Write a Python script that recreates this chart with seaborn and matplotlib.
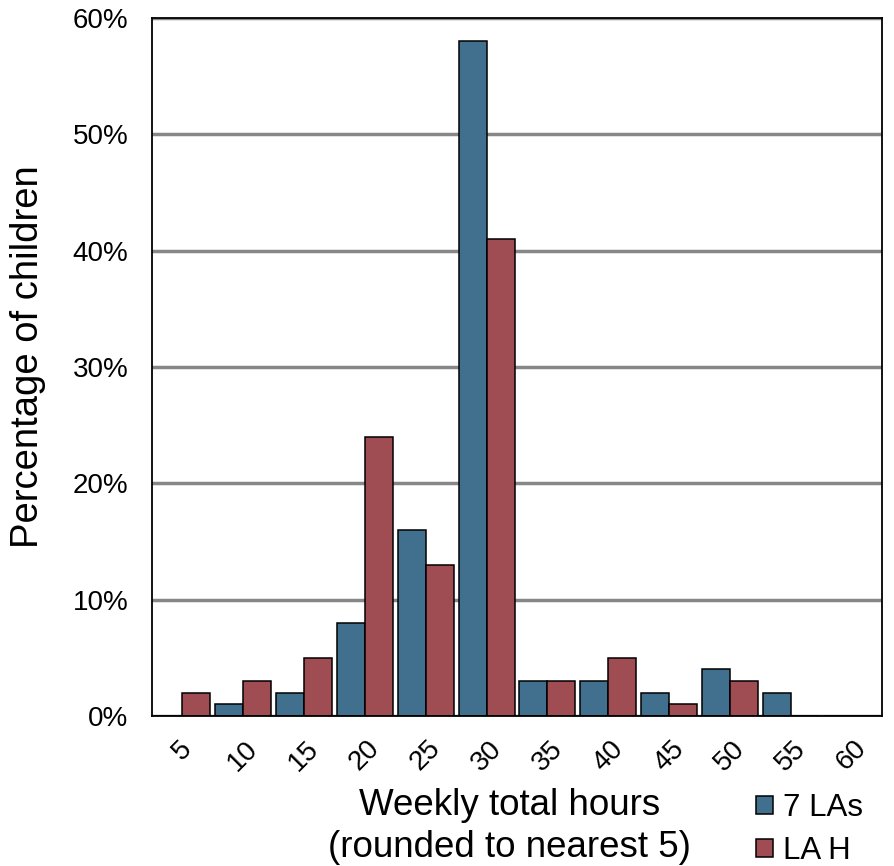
import numpy as np
import pandas as pd
import matplotlib
matplotlib.use("Agg")
import matplotlib.pyplot as plt
import seaborn as sns
from matplotlib.ticker import FuncFormatter, FixedLocator

# Data (percentage of children per rounded weekly hours)
hours = ["5", "10", "15", "20", "25", "30", "35", "40", "45", "50", "55", "60"]
las7 = [0, 1, 2, 8, 16, 58, 3, 3, 2, 4, 2, 0]
la_h = [2, 3, 5, 24, 13, 41, 3, 5, 1, 3, 0, 0]
series_names = ["7 LAs", "LA H"]
colors = {"7 LAs": "#41708F", "LA H": "#A04C53"}

sns.set_style("white")
plt.rcParams['font.family'] = ['Liberation Sans', 'DejaVu Sans']
plt.rcParams.update({"text.color": "black", "axes.labelcolor": "black",
                     "xtick.color": "black", "ytick.color": "black"})

df = pd.DataFrame({
    "hours": hours * 2,
    "pct": las7 + la_h,
    "series": [series_names[0]] * len(hours) + [series_names[1]] * len(hours),
})

fig = plt.figure(figsize=(8.95, 8.66), dpi=100)
ax = fig.add_axes([152 / 895, 1 - 716 / 866, 730 / 895, 698 / 866])

sns.barplot(data=df, x="hours", y="pct", hue="series", order=hours,
            hue_order=series_names, palette=colors, width=0.92, gap=0,
            edgecolor="black", linewidth=1.1, saturation=1, ax=ax, zorder=3)

ax.set_ylim(0, 60)
ax.set_xlim(-0.5, len(hours) - 0.5)
ax.set_yticks(range(0, 61, 10))
ax.yaxis.set_major_formatter(FuncFormatter(lambda v, p: f"{int(v)}%"))
ax.grid(axis="y", color="#878787", linewidth=2.5, zorder=0)
ax.set_axisbelow(True)

# tick marks sit on the category boundaries
ax.xaxis.set_minor_locator(FixedLocator(np.arange(-0.5, len(hours), 1.0)))
ax.tick_params(axis="x", which="minor", length=7, width=1.2, color="black", direction="out")
ax.tick_params(axis="x", which="major", length=0, labelsize=20, pad=14)
ax.tick_params(axis="y", length=0, labelsize=20, pad=17)
for lab in ax.get_xticklabels():
    lab.set_rotation(45)
    lab.set_ha("center")

for s in ax.spines.values():
    s.set_color("black")
    s.set_linewidth(1.3)
    s.set_zorder(5)

ax.set_ylabel("Percentage of children", fontsize=27.5)
ax.yaxis.set_label_coords(-0.145, 0.515)
ax.set_xlabel("Weekly total hours\n(rounded to nearest 5)", fontsize=26.5,
              linespacing=1.25)
ax.xaxis.set_label_coords(0.49, -0.103)

handles, labels = ax.get_legend_handles_labels()
ax.get_legend().remove()
fig.legend(handles, labels, loc="upper left", bbox_to_anchor=(756 / 895, 1 - 793 / 866),
           frameon=False, fontsize=22.5, handlelength=0.55, handleheight=0.55,
           handletextpad=0.3, labelspacing=0.42, borderpad=0, borderaxespad=0)

fig.savefig("out.png", dpi=100)
